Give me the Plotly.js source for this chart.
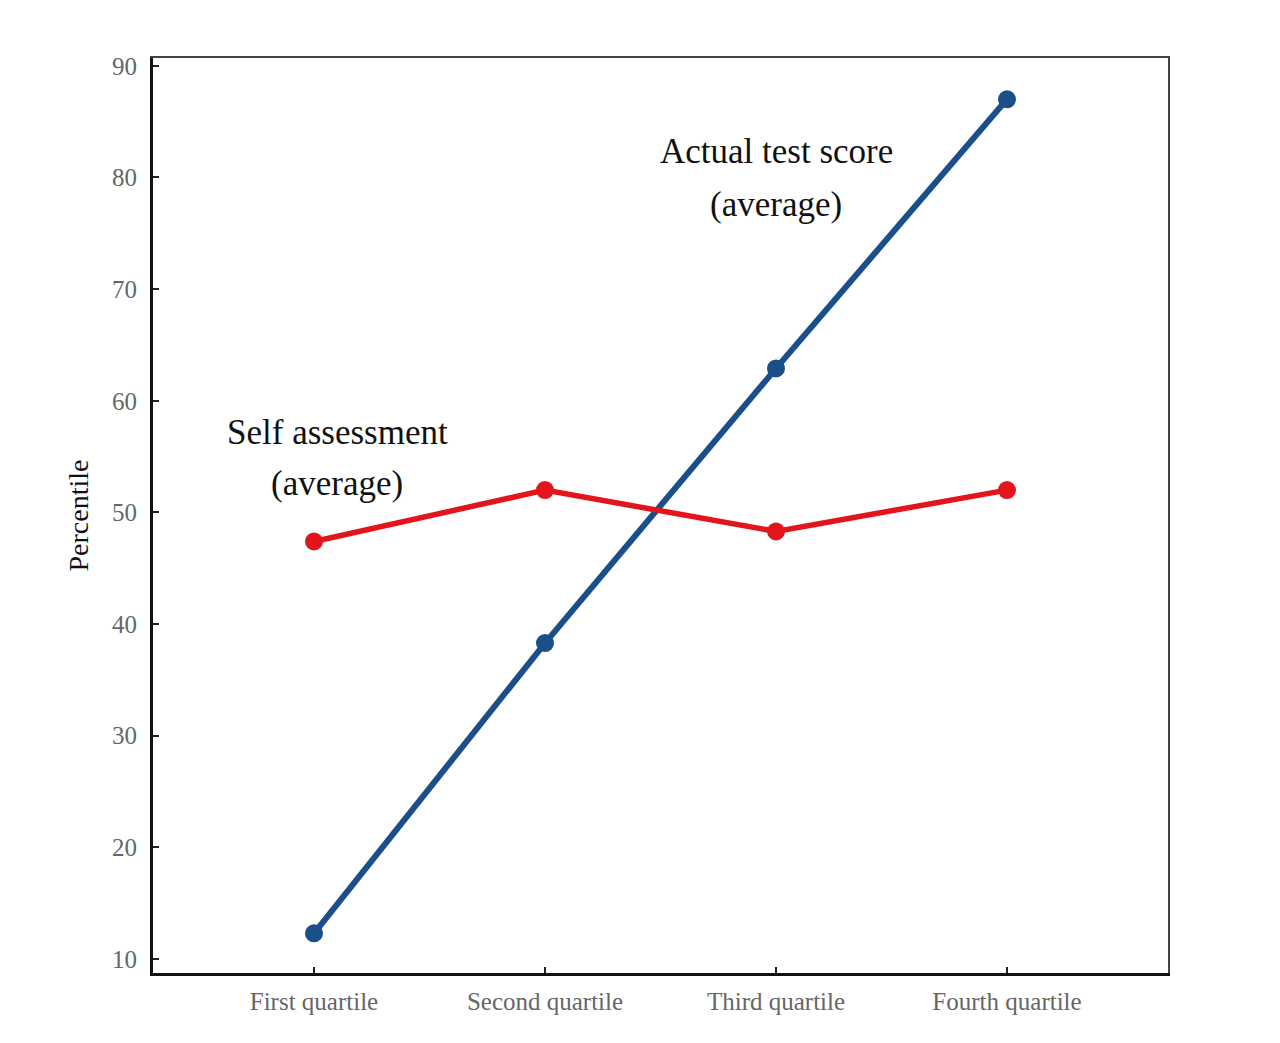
<!DOCTYPE html>
<html>
<head>
<meta charset="utf-8">
<script src="https://cdn.plot.ly/plotly-3.0.1.min.js"></script>
<style>
  body { margin: 0; background: #fff; }
  #chart { width: 1280px; height: 1043px; }
</style>
</head>
<body>
<div id="chart"></div>
<script>
// Daten
const quartiles = ["First quartile", "Second quartile", "Third quartile", "Fourth quartile"];
const actualScore = [12.3, 38.3, 62.9, 87.0];
const selfAssessment = [47.4, 52.0, 48.3, 52.0];
const yTicks = [10, 20, 30, 40, 50, 60, 70, 80, 90];

const serif = "Liberation Serif, Times New Roman, serif";

const traces = [
    {
        x: quartiles, y: actualScore, mode: 'lines+markers', name: 'Actual test score',
        line: { color: '#1b4f8a', width: 6 },
        marker: { color: '#1b4f8a', size: 18 }
    },
    {
        x: quartiles, y: selfAssessment, mode: 'lines+markers', name: 'Self assessment',
        line: { color: '#e3141c', width: 5.5 },
        marker: { color: '#e3141c', size: 18 }
    }
];

function label(text, x, y) {
    return {
        text: text, x: x, y: y, xref: 'x', yref: 'y', showarrow: false,
        xanchor: 'center', yanchor: 'middle',
        font: { family: serif, size: 35, color: '#111' }
    };
}

const layout = {
    width: 1280, height: 1043,
    margin: { l: 153, r: 112, t: 58, b: 70 },
    paper_bgcolor: '#fff', plot_bgcolor: '#fff',
    showlegend: false,
    xaxis: {
        type: 'category', range: [-0.697, 3.697],
        showgrid: false, zeroline: false,
        showline: true, linecolor: '#111', linewidth: 3,
        ticks: 'inside', ticklen: 6, tickwidth: 2, tickcolor: '#222',
        ticklabelstandoff: 4,
        tickfont: { family: serif, size: 25, color: '#666' }
    },
    xaxis2: {
        overlaying: 'x', side: 'top', showline: true, linecolor: '#444', linewidth: 2,
        showticklabels: false, ticks: '', showgrid: false, zeroline: false, range: [0, 1]
    },
    yaxis: {
        range: [8.75, 90.7],
        tickvals: yTicks,
        showgrid: false, zeroline: false,
        showline: true, linecolor: '#111', linewidth: 3,
        ticks: 'inside', ticklen: 6, tickwidth: 2, tickcolor: '#222',
        ticklabelstandoff: 8,
        tickfont: { family: serif, size: 25, color: '#666' },
        title: { text: 'Percentile', standoff: 16, font: { family: serif, size: 28, color: '#111' } }
    },
    yaxis2: {
        overlaying: 'y', side: 'right', anchor: 'x', showline: true, linecolor: '#444', linewidth: 2,
        showticklabels: false, ticks: '', showgrid: false, zeroline: false, range: [0, 1]
    },
    annotations: [
        label('Actual test score', 2, 82.3),
        label('(average)', 2, 77.6),
        label('Self assessment', 0.1, 57.2),
        label('(average)', 0.1, 52.55)
    ]
};

// Dummy-Trace, damit die Rahmenachsen oben/rechts gezeichnet werden
traces.push({ x: [], y: [], xaxis: 'x2', yaxis: 'y2', hoverinfo: 'skip' });

Plotly.newPlot('chart', traces, layout, { displayModeBar: false, staticPlot: true });
</script>
</body>
</html>
